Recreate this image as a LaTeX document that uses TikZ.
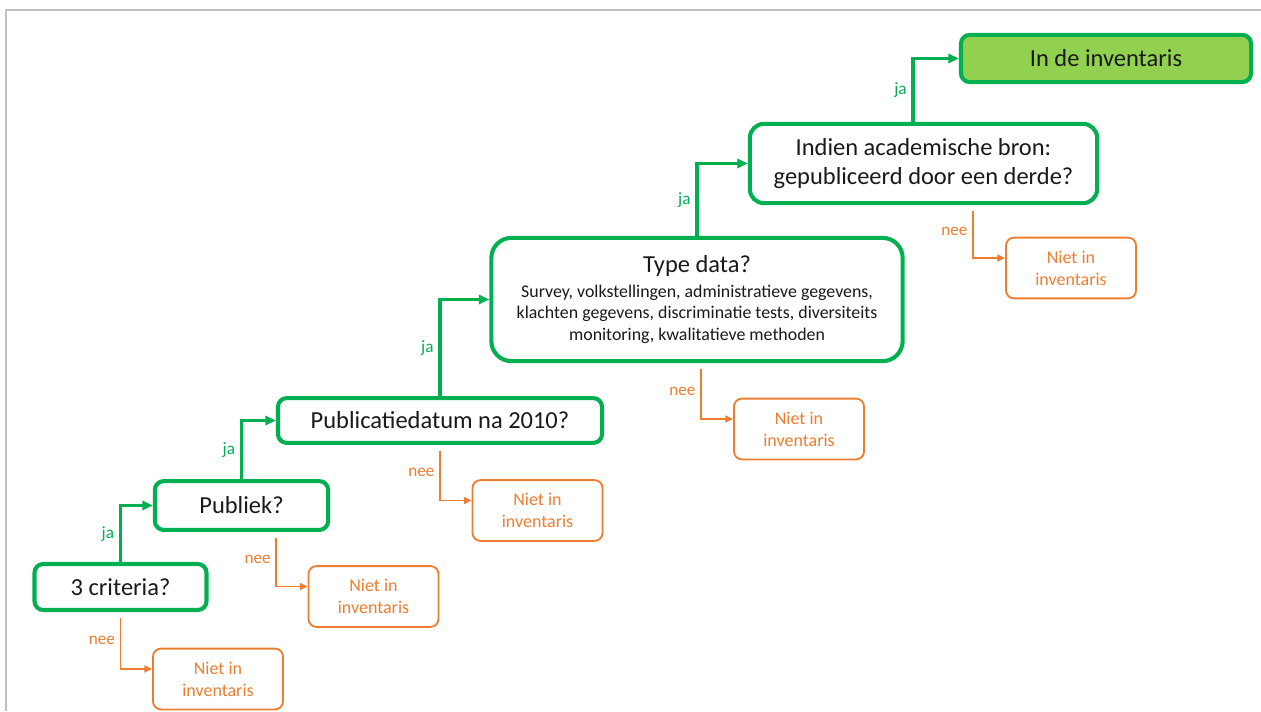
\documentclass[tikz,border=0pt]{standalone}
\usepackage{fontspec}
\setmainfont{Carlito}
\usepackage{xcolor}
\usetikzlibrary{arrows.meta, positioning}
\definecolor{groen}{RGB}{0,176,80}
\definecolor{oranje}{RGB}{237,125,49}
\definecolor{lichtgroen}{RGB}{146,208,80}
\definecolor{kader}{RGB}{191,191,191}

\begin{document}
\begin{tikzpicture}[x=0.025cm, y=-0.025cm,
    vraag/.style={draw=groen, line width=2.9pt, rounded corners=0.22cm, align=center,
        text=black!90, font=\fontsize{17.4}{20.6}\selectfont},
    nietbox/.style={draw=oranje, line width=1.3pt, rounded corners=0.2cm, align=center,
        text=oranje, font=\fontsize{12.8}{15.6}\selectfont,
        minimum width=3.25cm, minimum height=1.52cm},
    japijl/.style={draw=groen, line width=2.6pt, -{Triangle[length=7.5pt,width=6.5pt]}},
    neepijl/.style={draw=oranje, line width=1.3pt, -{Triangle[length=5.5pt,width=5pt]},
        shorten <=4pt},
    jalabel/.style={text=groen, left, font=\fontsize{12.2}{14}\selectfont},
    neelabel/.style={text=oranje, left, font=\fontsize{12.2}{14}\selectfont}]
    \useasboundingbox (0,0) rectangle (1261,711);
    % screenshot frame
    \draw[kader, line width=1.5pt] (6,711) -- (6,10) -- (1261,10);

    % questions
    \node[vraag, minimum width=4.3cm, minimum height=1.15cm] (crit) at (120.5,587) {3 criteria?};
    \node[vraag, minimum width=4.33cm, minimum height=1.22cm] (publ) at (241.5,505.5) {Publiek?};
    \node[vraag, minimum width=8.1cm, minimum height=1.12cm] (datum) at (440,420.5) {Publicatiedatum na 2010?};
    \node[vraag, rounded corners=0.5cm, minimum width=10.28cm, minimum height=3.08cm,
        font=\fontsize{12.7}{15}\selectfont] (type) at (697,299.5)
        {{\fontsize{17.4}{20.6}\selectfont Type data?}\\[2.8pt]
         Survey, volkstellingen, administratieve gegevens,\\
         klachten gegevens, discriminatie tests, diversiteits\\
         monitoring, kwalitatieve methoden};
    \node[vraag, rounded corners=0.35cm, minimum width=8.68cm, minimum height=1.98cm] (bron) at (923.5,163.5)
        {Indien academische bron:\\gepubliceerd door een derde?};
    \node[vraag, fill=lichtgroen, minimum width=7.25cm, minimum height=1.18cm] (inv) at (1106,58.5) {In de inventaris};

    % niet in inventaris
    \node[nietbox] (n1) at (218,679) {Niet in\\inventaris};
    \node[nietbox] (n2) at (373.5,596.5) {Niet in\\inventaris};
    \node[nietbox] (n3) at (537.5,510.5) {Niet in\\inventaris};
    \node[nietbox] (n4) at (799,429) {Niet in\\inventaris};
    \node[nietbox] (n5) at (1071,268) {Niet in\\inventaris};

    % ja
    \draw[japijl] (crit.north) |- node[jalabel, pos=0.25] {ja} (publ.west);
    \draw[japijl] (publ.north) |- node[jalabel, pos=0.25] {ja} (datum.west);
    \draw[japijl] (datum.north) |- node[jalabel, pos=0.25] {ja} (type.west);
    \draw[japijl] (type.north) |- node[jalabel, pos=0.25] {ja} (bron.west);
    \draw[japijl] ([xshift=-0.26cm]bron.north) |- node[jalabel, pos=0.25] {ja} (inv.west);

    % nee
    \draw[neepijl] (crit.south) |- node[neelabel, pos=0.25] {nee} ([yshift=0.25cm]n1.west);
    \draw[neepijl] ([xshift=0.87cm]publ.south) |- node[neelabel, pos=0.25] {nee} ([yshift=0.25cm]n2.west);
    \draw[neepijl] (datum.south) |- node[neelabel, pos=0.25] {nee} ([yshift=0.25cm]n3.west);
    \draw[neepijl] ([xshift=0.1cm]type.south) |- node[neelabel, pos=0.25] {nee} ([yshift=0.25cm]n4.west);
    \draw[neepijl] ([xshift=1.24cm]bron.south) |- node[neelabel, pos=0.25] {nee} ([yshift=0.25cm]n5.west);
\end{tikzpicture}
\end{document}
